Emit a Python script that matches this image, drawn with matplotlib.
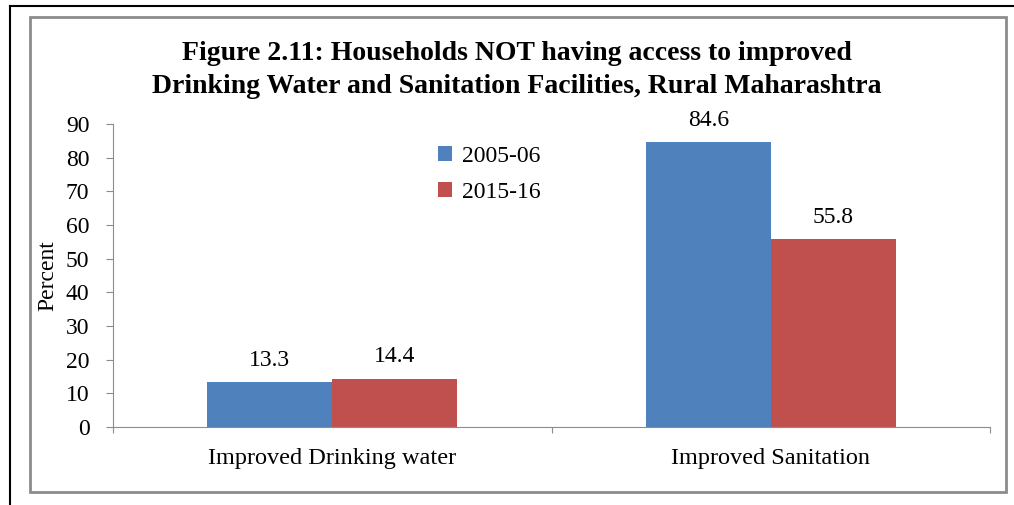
import numpy as np
import matplotlib.pyplot as plt
from matplotlib.patches import Rectangle
from matplotlib.lines import Line2D

categories = ['Improved Drinking water', 'Improved Sanitation']
years = ['2005-06', '2015-16']
v_2005 = [13.3, 84.6]
v_2015 = [14.4, 55.8]
colors = ['#4F81BD', '#C0504D']

plt.rcParams['font.family'] = ['Liberation Serif', 'DejaVu Serif']

W, H = 1014, 505
fig = plt.figure(figsize=(W / 100, H / 100), dpi=100)

# frames: black outer line (top and left), grey chart border
fig.add_artist(Line2D([10 / W, 1], [1 - 6 / H, 1 - 6 / H], color='black', lw=1.5))
fig.add_artist(Line2D([10 / W, 10 / W], [0, 1 - 6 / H], color='black', lw=1.5))
fig.add_artist(Rectangle((30 / W, 1 - 492 / H), (1006 - 30) / W, (492 - 17) / H,
                         fill=False, edgecolor='#8c8c8c', lw=2))

ax = fig.add_axes([113 / W, 1 - 427 / H, (990 - 113) / W, (427 - 124) / H])

x = np.arange(len(categories)) + 0.5
bw = 0.285
b1 = ax.bar(x - bw / 2, v_2005, bw, color=colors[0], label=years[0])
b2 = ax.bar(x + bw / 2, v_2015, bw, color=colors[1], label=years[1])

for bars, vals in [(b1, v_2005), (b2, v_2015)]:
    for b, v in zip(bars, vals):
        ax.annotate('{:.1f}'.format(v), (b.get_x() + b.get_width() / 2, v),
                    xytext=(0, 8), textcoords='offset points',
                    ha='center', va='bottom', fontsize=17)

ax.set_xlim(0, 2)
ax.set_ylim(0, 90)
ax.set_yticks(np.arange(0, 91, 10))
ax.set_xticks([0, 1, 2])
ax.set_xticklabels([])
ax.set_xticks(x, minor=True)
ax.set_xticklabels(categories, minor=True, fontsize=17.5)
ax.tick_params(axis='x', which='minor', length=0, pad=15)
ax.tick_params(axis='x', which='major', length=4, color='#8c8c8c')
ax.tick_params(axis='y', length=5, color='#8c8c8c', labelsize=17, pad=12)

for s in ['top', 'right']:
    ax.spines[s].set_visible(False)
for s in ['left', 'bottom']:
    ax.spines[s].set_color('#8c8c8c')

ax.set_ylabel('Percent', fontsize=17)
ax.yaxis.set_label_coords((58 - 113) / 877, 0.5)

fig.text(517 / W, 1 - 70 / H,
         'Figure 2.11: Households NOT having access to improved\n'
         'Drinking Water and Sanitation Facilities, Rural Maharashtra',
         ha='center', va='center', fontsize=20, fontweight='bold', linespacing=1.42)

ax.legend(loc='upper left', bbox_to_anchor=(417 / W, 1 - 125 / H),
          bbox_transform=fig.transFigure, frameon=False, fontsize=17,
          handlelength=0.6, handleheight=0.6, handletextpad=0.4, labelspacing=0.62)

fig.savefig('out.png', dpi=100)
